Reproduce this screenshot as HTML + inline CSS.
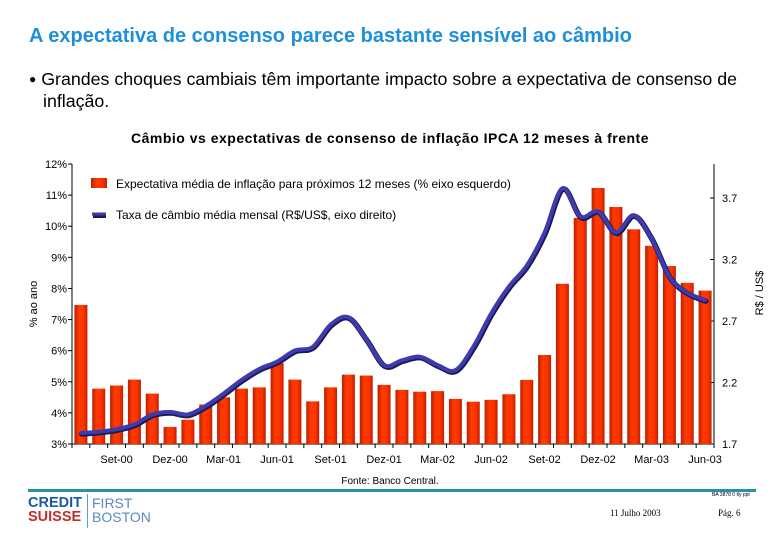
<!DOCTYPE html>
<html><head><meta charset="utf-8">
<style>
body{margin:0;width:780px;height:540px;background:#fff;font-family:"Liberation Sans",sans-serif;position:relative;overflow:hidden}
.t{position:absolute;white-space:nowrap}
</style></head>
<body>
<div class="t" style="left:29px;top:25px;font-size:20px;font-weight:bold;color:#1e8fdb">A expectativa de consenso parece bastante sensível ao câmbio</div>
<div class="t" style="left:29px;top:68px;font-size:17.8px;line-height:22px;color:#000"><span style="font-size:12px;vertical-align:2px">&#9679;</span> Grandes choques cambiais têm importante impacto sobre a expectativa de consenso de<br><span style="padding-left:14px">inflação.</span></div>
<div class="t" style="left:0;width:780px;text-align:center;top:130px;font-size:14px;font-weight:bold;letter-spacing:0.5px">Câmbio vs expectativas de consenso de inflação IPCA 12 meses à frente</div>
<svg id="chart" width="780" height="540" style="position:absolute;left:0;top:0" font-family="Liberation Sans, sans-serif">
<defs>
<linearGradient id="bg" x1="0" x2="1" y1="0" y2="0">
<stop offset="0" stop-color="#b82000"/><stop offset="0.35" stop-color="#ff3a00"/><stop offset="0.7" stop-color="#ff3300"/><stop offset="1" stop-color="#c02000"/>
</linearGradient>
</defs>
</svg>
<div class="t" style="left:0;width:780px;text-align:center;top:476px;font-size:10px">Fonte: Banco Central.</div>
<div style="position:absolute;left:28px;top:489px;width:728px;height:3px;background:#2a8fa8"></div>
<div style="position:absolute;left:28px;top:494px;">
<div class="t" style="left:0;top:2px;font-size:14.5px;font-weight:bold;color:#1a5aa0;line-height:14px">CREDIT<br><span style="color:#c0302a">SUISSE</span></div>
<div style="position:absolute;left:59px;top:0;width:1px;height:34px;background:#5aa0c0"></div>
<div class="t" style="left:64px;top:2px;font-size:14px;color:#5a8ab8;line-height:14px">FIRST<br>BOSTON</div>
</div>
<div class="t" style="left:712px;top:492px;font-size:5px">BA 3878 0 tly ppt</div>
<div class="t" style="left:610px;top:508px;font-size:9px;font-family:'Liberation Serif',serif">11 Julho 2003</div>
<div class="t" style="left:718px;top:508px;font-size:9px;font-family:'Liberation Serif',serif">Pág. 6</div>
<script>
const months=["Jul-00","Ago-00","Set-00","Out-00","Nov-00","Dez-00","Jan-01","Fev-01","Mar-01","Abr-01","Mai-01","Jun-01","Jul-01","Ago-01","Set-01","Out-01","Nov-01","Dez-01","Jan-02","Fev-02","Mar-02","Abr-02","Mai-02","Jun-02","Jul-02","Ago-02","Set-02","Out-02","Nov-02","Dez-02","Jan-03","Fev-03","Mar-03","Abr-03","Mai-03","Jun-03"];
const inflation=[7.47,4.78,4.88,5.07,4.62,3.55,3.78,4.27,4.5,4.78,4.82,5.6,5.07,4.37,4.82,5.23,5.2,4.9,4.74,4.68,4.7,4.45,4.36,4.42,4.6,5.06,5.86,8.15,10.27,11.23,10.62,9.9,9.37,8.72,8.18,7.93];
const fx=[1.79,1.80,1.82,1.86,1.94,1.96,1.94,2.01,2.11,2.22,2.31,2.37,2.46,2.49,2.67,2.73,2.55,2.34,2.38,2.41,2.34,2.30,2.49,2.76,2.98,3.15,3.42,3.78,3.55,3.59,3.42,3.56,3.37,3.06,2.93,2.87];
const leftTicks=[3,4,5,6,7,8,9,10,11,12];
const rightTicks=[1.7,2.2,2.7,3.2,3.7];
const xLabels=["Set-00","Dez-00","Mar-01","Jun-01","Set-01","Dez-01","Mar-02","Jun-02","Set-02","Dez-02","Mar-03","Jun-03"];
const X0=72,X1=714,Y0=444,Y1=164;
const slot=(X1-X0)/months.length;
const xc=i=>X0+slot*(i+0.5);
const yL=v=>Y0-(v-3)/(12-3)*(Y0-Y1);
const yR=v=>Y0-(v-1.7)*123;
const svg=document.getElementById('chart');
const NS="http://www.w3.org/2000/svg";
function mk(t,a){const e=document.createElementNS(NS,t);for(const k in a)e.setAttribute(k,a[k]);svg.appendChild(e);return e;}
let e=mk('line',{x1:X0,y1:Y1,x2:X0,y2:Y0,stroke:'#000'});

e=mk('line',{x1:X1,y1:Y1,x2:X1,y2:Y0,stroke:'#000'});

e=mk('line',{x1:X0,y1:Y0,x2:X1,y2:Y0,stroke:'#000'});

leftTicks.forEach(v=>{const y=yL(v);
 mk('line',{x1:X0-4,y1:y,x2:X0,y2:y,stroke:'#000'});
 const t=mk('text',{x:X0-5,y:y+4,'text-anchor':'end','font-size':11});t.textContent=v+'%';
 });
rightTicks.forEach(v=>{const y=yR(v);
 mk('line',{x1:X1-4,y1:y,x2:X1,y2:y,stroke:'#000'});
 const t=mk('text',{x:X1+8,y:y+4,'font-size':11});t.textContent=v.toFixed(1);
 });
for(let i=0;i<=months.length;i++){mk('line',{x1:X0+slot*i,y1:Y0,x2:X0+slot*i,y2:Y0+4,stroke:'#000'});}
inflation.forEach((v,i)=>{const y=yL(v);
 const r=mk('rect',{x:xc(i)-6.5,y:y,width:13,height:Y0-y,fill:'url(#bg)'});
 });
const pts=fx.map((v,i)=>[xc(i),yR(v)]);
let d='M'+pts[0][0]+','+pts[0][1];
for(let i=0;i<pts.length-1;i++){const p0=pts[Math.max(0,i-1)],p1=pts[i],p2=pts[i+1],p3=pts[Math.min(pts.length-1,i+2)];
 d+=` C${p1[0]+(p2[0]-p0[0])/6},${p1[1]+(p2[1]-p0[1])/6} ${p2[0]-(p3[0]-p1[0])/6},${p2[1]-(p3[1]-p1[1])/6} ${p2[0]},${p2[1]}`;}
mk('path',{d:d,fill:'none',stroke:'#1a1a50','stroke-width':5.5,'stroke-linecap':'round',transform:'translate(0.7,1)'});
e=mk('path',{d:d,fill:'none',stroke:'#3e3ab0','stroke-width':4,'stroke-linecap':'round'});

xLabels.forEach(l=>{const i=months.indexOf(l);
 const t=mk('text',{x:xc(i),y:463,'text-anchor':'middle','font-size':11});t.textContent=l;
 });
e=mk('text',{x:37,y:304,'font-size':11,'text-anchor':'middle',transform:'rotate(-90 37 304)'});e.textContent='% ao ano';

e=mk('text',{x:763,y:293,'font-size':11,'text-anchor':'middle',transform:'rotate(-90 763 293)'});e.textContent='R$ / US$';

e=mk('rect',{x:91,y:178,width:16,height:10,fill:'url(#bg)'});

e=mk('text',{x:116,y:188,'font-size':12});e.textContent='Expectativa média de inflação para próximos 12 meses (% eixo esquerdo)';

mk('line',{x1:93,y1:216,x2:106,y2:216,stroke:'#1a1a50','stroke-width':4});
e=mk('line',{x1:92,y1:214,x2:106,y2:214,stroke:'#3e3ab0','stroke-width':3});

e=mk('text',{x:116,y:219,'font-size':12});e.textContent='Taxa de câmbio média mensal (R$/US$, eixo direito)';

</script>
</body></html>
